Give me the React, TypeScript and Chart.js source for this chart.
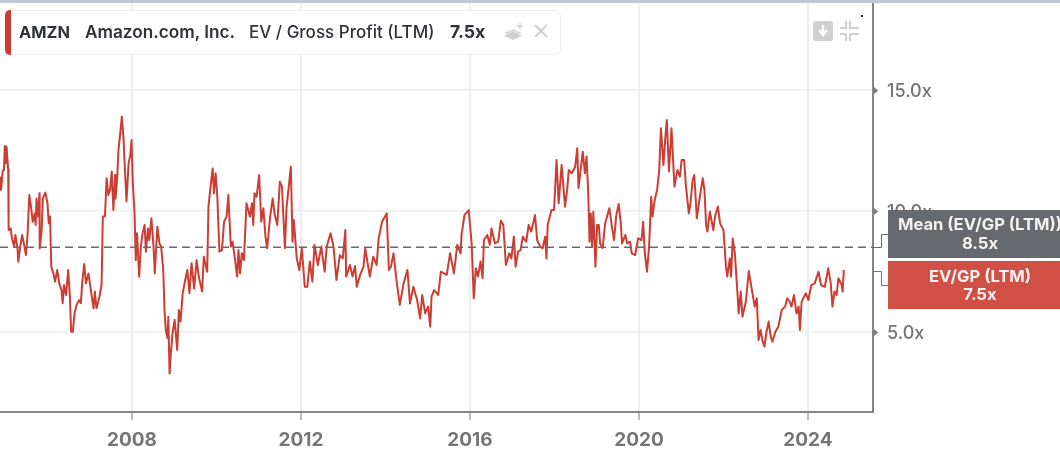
import React, { useEffect, useRef } from "react";
import { Chart, registerables } from "chart.js";

Chart.register(...registerables);

const yearTicks = [2008, 2012, 2016, 2020, 2024];
const valueTicks = [5, 10, 15];
const meanValue = 8.5;
const lastValue = 7.5;

// [decimal year, EV / Gross Profit multiple]
const evGpSeries: [number, number][] = [
[2004.88,11.42],[2004.90,10.87],[2004.94,11.65],[2004.97,11.70],[2004.99,12.69],[2005.01,11.97],[2005.03,12.66],[2005.07,11.70],[2005.08,9.21],[2005.13,9.28],[2005.16,8.87],[2005.21,8.53],[2005.24,9.01],[2005.29,8.46],[2005.31,7.91],[2005.35,8.46],[2005.40,9.01],[2005.44,8.66],[2005.49,8.18],[2005.53,9.08],[2005.57,10.66],[2005.62,10.04],[2005.65,9.56],[2005.70,9.90],[2005.72,9.42],[2005.74,10.52],[2005.78,9.77],[2005.81,10.73],[2005.815,8.46],[2005.86,9.15],[2005.89,10.52],[2005.95,10.76],
[2006.00,10.32],[2006.03,9.49],[2006.06,9.77],[2006.09,7.70],[2006.14,7.42],[2006.18,7.08],[2006.23,7.56],[2006.28,7.01],[2006.33,6.74],[2006.36,6.19],[2006.39,6.94],[2006.44,6.53],[2006.49,7.56],[2006.53,6.46],[2006.56,5.01],[2006.60,5.01],[2006.64,5.77],[2006.69,6.12],[2006.75,6.32],[2006.79,6.19],[2006.82,7.01],[2006.87,7.81],[2006.91,7.01],[2006.97,7.42],
[2007.02,6.80],[2007.09,5.98],[2007.12,6.67],[2007.16,5.98],[2007.23,6.46],[2007.28,6.94],[2007.31,9.77],[2007.36,9.77],[2007.40,11.35],[2007.44,10.66],[2007.48,10.87],[2007.52,11.63],[2007.56,10.04],[2007.60,11.49],[2007.61,10.52],[2007.65,11.35],[2007.68,12.52],[2007.73,13.35],[2007.76,13.90],[2007.80,13.00],[2007.83,11.83],[2007.87,10.39],[2007.92,11.97],[2007.96,12.31],[2007.99,12.93],
[2008.02,11.14],[2008.06,9.97],[2008.09,7.97],[2008.12,9.08],[2008.17,7.29],[2008.21,8.53],[2008.25,9.08],[2008.30,9.42],[2008.33,8.32],[2008.38,9.28],[2008.41,8.80],[2008.46,9.70],[2008.51,8.53],[2008.54,7.42],[2008.60,9.35],[2008.65,8.66],[2008.69,8.53],[2008.74,7.56],[2008.77,5.91],[2008.80,5.08],[2008.84,4.74],[2008.86,5.63],[2008.89,3.29],[2008.92,4.12],[2008.96,4.94],
[2009.01,5.50],[2009.07,4.26],[2009.11,5.91],[2009.15,5.43],[2009.20,6.60],[2009.26,7.15],[2009.31,7.56],[2009.36,6.60],[2009.41,7.84],[2009.47,6.80],[2009.53,7.97],[2009.58,7.29],[2009.66,6.67],[2009.70,8.11],[2009.78,7.49],[2009.81,10.18],[2009.86,11.01],[2009.91,11.76],[2009.94,10.73],[2009.98,11.56],
[2010.02,10.59],[2010.07,8.32],[2010.13,8.39],[2010.18,9.56],[2010.24,9.77],[2010.28,10.66],[2010.34,8.53],[2010.38,8.73],[2010.43,8.11],[2010.49,7.29],[2010.52,8.39],[2010.56,7.42],[2010.60,8.25],[2010.65,7.97],[2010.71,10.32],[2010.79,9.77],[2010.84,10.32],[2010.87,9.42],[2010.90,10.73],[2010.95,10.59],
[2011.01,11.49],[2011.06,9.56],[2011.11,10.11],[2011.16,8.94],[2011.20,8.46],[2011.27,9.77],[2011.33,10.52],[2011.38,9.84],[2011.44,9.42],[2011.50,11.21],[2011.55,11.01],[2011.62,8.46],[2011.66,10.18],[2011.72,11.14],[2011.76,11.83],[2011.80,8.73],[2011.83,9.63],[2011.90,8.04],[2011.96,7.56],
[2012.02,8.46],[2012.09,6.87],[2012.15,6.87],[2012.21,7.91],[2012.27,7.08],[2012.32,8.60],[2012.40,7.77],[2012.48,8.53],[2012.56,7.49],[2012.61,8.53],[2012.70,9.08],[2012.77,8.53],[2012.84,7.15],[2012.92,8.18],[2012.99,8.04],
[2013.05,9.21],[2013.07,7.29],[2013.16,7.77],[2013.22,7.29],[2013.28,7.73],[2013.32,6.87],[2013.40,7.36],[2013.48,7.70],[2013.52,8.46],[2013.63,7.29],[2013.71,8.11],[2013.79,7.77],[2013.84,8.87],[2013.92,9.56],
[2014.03,9.90],[2014.08,7.56],[2014.13,7.70],[2014.19,8.25],[2014.26,7.15],[2014.34,6.12],[2014.42,6.94],[2014.52,7.56],[2014.58,6.18],[2014.66,6.87],[2014.75,6.32],[2014.82,5.56],[2014.87,6.53],[2014.94,5.77],
[2015.01,6.05],[2015.06,5.22],[2015.09,6.46],[2015.15,6.73],[2015.25,6.53],[2015.31,7.49],[2015.45,7.36],[2015.53,8.25],[2015.62,7.42],[2015.70,8.60],[2015.78,8.25],[2015.80,9.01],[2015.87,9.83],[2015.97,10.04],
[2016.04,8.66],[2016.09,6.39],[2016.14,7.63],[2016.19,7.29],[2016.25,7.91],[2016.30,7.22],[2016.33,8.80],[2016.41,9.01],[2016.47,8.60],[2016.51,9.28],[2016.59,8.66],[2016.67,8.73],[2016.73,9.60],[2016.79,9.42],[2016.85,7.77],[2016.93,8.25],[2016.98,8.04],
[2017.04,8.94],[2017.08,7.70],[2017.14,8.32],[2017.20,8.39],[2017.25,8.94],[2017.33,8.73],[2017.39,9.42],[2017.45,9.15],[2017.54,9.83],[2017.59,8.80],[2017.66,8.53],[2017.72,8.46],[2017.78,8.94],[2017.81,8.04],[2017.84,9.42],[2017.93,10.04],[2017.99,10.04],
[2018.05,12.11],[2018.10,10.32],[2018.17,11.90],[2018.25,10.18],[2018.30,10.87],[2018.34,11.69],[2018.41,11.56],[2018.49,11.83],[2018.54,12.59],[2018.57,10.94],[2018.67,12.45],[2018.72,11.56],[2018.76,12.25],[2018.80,10.73],[2018.83,8.73],[2018.86,9.90],[2018.89,8.53],[2018.92,9.97],[2018.97,7.70],
[2019.01,9.42],[2019.05,9.42],[2019.08,8.66],[2019.14,8.46],[2019.20,9.49],[2019.30,10.11],[2019.36,9.35],[2019.41,8.80],[2019.46,9.77],[2019.52,10.29],[2019.57,9.49],[2019.60,8.66],[2019.68,9.01],[2019.72,8.66],[2019.79,8.73],[2019.83,8.25],[2019.91,8.18],[2019.98,8.87],
[2020.06,8.80],[2020.10,9.56],[2020.14,8.25],[2020.19,7.49],[2020.24,8.53],[2020.29,10.59],[2020.32,9.77],[2020.38,10.52],[2020.43,10.87],[2020.48,11.69],[2020.52,13.42],[2020.58,11.90],[2020.62,12.93],[2020.66,13.76],[2020.71,11.63],[2020.77,13.42],[2020.84,11.01],[2020.91,11.69],[2020.97,11.42],
[2021.01,12.11],[2021.07,12.11],[2021.11,11.07],[2021.18,9.90],[2021.22,10.32],[2021.27,11.28],[2021.31,11.49],[2021.37,9.70],[2021.43,10.45],[2021.51,11.35],[2021.55,10.87],[2021.59,9.42],[2021.62,9.15],[2021.68,9.97],[2021.76,9.21],[2021.80,9.77],[2021.87,10.18],[2021.92,9.49],
[2022.00,9.21],[2022.06,7.70],[2022.09,7.29],[2022.15,8.04],[2022.18,7.29],[2022.22,8.87],[2022.27,8.25],[2022.33,6.67],[2022.36,5.77],[2022.41,6.67],[2022.45,5.63],[2022.53,6.25],[2022.60,7.52],[2022.68,6.67],[2022.74,6.05],[2022.79,6.39],[2022.83,4.67],[2022.88,5.08],[2022.93,4.60],[2022.97,4.40],
[2023.02,5.01],[2023.07,5.43],[2023.12,4.81],[2023.16,4.60],[2023.23,5.01],[2023.30,5.22],[2023.38,5.91],[2023.46,6.05],[2023.51,6.39],[2023.57,6.25],[2023.61,6.05],[2023.67,6.53],[2023.73,5.77],[2023.78,6.05],[2023.81,5.08],[2023.85,6.25],[2023.95,6.60],
[2024.01,6.32],[2024.08,6.94],[2024.16,7.01],[2024.25,7.49],[2024.31,6.94],[2024.40,6.87],[2024.48,7.63],[2024.54,7.01],[2024.58,6.05],[2024.63,6.67],[2024.68,6.53],[2024.72,7.22],[2024.80,6.94],[2024.82,6.67],[2024.85,7.56],
];

const xMin = 2004.876;
const xMax = 2025.54;
const yMin = 1.694;
const yMax = 18.595;

const FONT = "Inter, Roboto, sans-serif";
const RED = "#cc3d33";
const GREY = "#66696d";

const overlayPlugin = {
  id: "overlay",
  afterDraw(chart: any) {
    const { ctx, scales } = chart;
    const y = scales.y;
    const right = chart.chartArea.right;
    ctx.save();
    // little arrow marks at the value ticks
    ctx.fillStyle = "#777";
    valueTicks.forEach((v) => {
      const py = y.getPixelForValue(v);
      ctx.beginPath();
      ctx.moveTo(right + 1, py - 3);
      ctx.lineTo(right + 5, py + 0.5);
      ctx.lineTo(right + 1, py + 4);
      ctx.closePath();
      ctx.fill();
    });
    // connectors from the axis to the value boxes
    ctx.lineWidth = 1;
    ctx.strokeStyle = GREY;
    const my = Math.round(y.getPixelForValue(meanValue)) + 0.5;
    ctx.beginPath();
    ctx.moveTo(right, my);
    ctx.lineTo(right + 8.5, my);
    ctx.lineTo(right + 8.5, 234.5);
    ctx.lineTo(right + 15, 234.5);
    ctx.stroke();
    ctx.strokeStyle = "#d05046";
    ctx.beginPath();
    ctx.moveTo(right, 271.5);
    ctx.lineTo(right + 8.5, 271.5);
    ctx.lineTo(right + 8.5, 285.5);
    ctx.lineTo(right + 15, 285.5);
    ctx.stroke();
    ctx.restore();
  },
};

const pos = (o: React.CSSProperties): React.CSSProperties => ({ position: "absolute", ...o });

export default function App() {
  const ref = useRef<HTMLCanvasElement>(null);
  useEffect(() => {
    document.body.style.margin = "0";
    const chart = new Chart(ref.current!, {
      type: "line",
      data: {
        datasets: [
          {
            label: "Mean (EV/GP (LTM))",
            data: [
              { x: xMin, y: meanValue },
              { x: xMax, y: meanValue },
            ],
            borderColor: GREY,
            borderWidth: 1.6,
            borderDash: [8, 5],
            pointRadius: 0,
            order: 0,
          },
          {
            label: "EV/GP (LTM)",
            data: evGpSeries.map(([x, y]) => ({ x, y })),
            borderColor: RED,
            borderWidth: 2,
            borderJoinStyle: "round",
            pointRadius: 0,
            tension: 0,
            order: 1,
          },
        ],
      },
      options: {
        animation: false,
        responsive: false,
        devicePixelRatio: 1,
        layout: { padding: { top: 3, left: 0, right: 0, bottom: 0 } },
        plugins: { legend: { display: false }, tooltip: { enabled: false } },
        scales: {
          x: {
            type: "linear",
            min: xMin,
            max: xMax,
            afterBuildTicks: (s: any) => {
              s.ticks = yearTicks.map((value) => ({ value }));
            },
            afterFit: (s: any) => {
              s.height = 42;
              s.paddingLeft = 0;
              s.paddingRight = 0;
            },
            grid: { color: "#eeeeee", lineWidth: 2, tickColor: "#777", tickLength: 8, tickWidth: 1 },
            border: { color: "#858585", width: 2 },
            ticks: {
              autoSkip: false,
              maxRotation: 0,
              padding: 9,
              color: "#757575",
              font: { family: FONT, size: 19, weight: "700" },
              callback: (v: any) => String(v),
            },
          },
          y: {
            type: "linear",
            position: "right",
            min: yMin,
            max: yMax,
            afterBuildTicks: (s: any) => {
              s.ticks = valueTicks.map((value) => ({ value }));
            },
            afterFit: (s: any) => {
              s.width = 187;
              s.paddingTop = 0;
              s.paddingBottom = 0;
            },
            grid: { color: "#eeeeee", lineWidth: 1.5, drawTicks: false },
            border: { color: "#858585", width: 2 },
            ticks: {
              padding: 14,
              labelOffset: 1.5,
              color: "#757575",
              font: { family: FONT, size: 18, weight: "500" },
              callback: (v: any) => `${Number(v).toFixed(1)}x`,
            },
          },
        },
      },
      plugins: [overlayPlugin],
    } as any);
    return () => chart.destroy();
  }, []);

  const headerText: React.CSSProperties = {
    position: "absolute",
    top: 20.5,
    lineHeight: "22px",
    fontSize: 17,
    color: "#2f3338",
    whiteSpace: "nowrap",
    fontFamily: FONT,
  };
  const boxText: React.CSSProperties = {
    position: "absolute",
    left: 888,
    width: 184,
    textAlign: "center",
    color: "#f4f1f0",
    fontSize: 16.6,
    fontWeight: 700,
    lineHeight: "21px",
    fontFamily: FONT,
    whiteSpace: "nowrap",
  };

  return (
    <div style={{ position: "relative", width: 1060, height: 454, overflow: "hidden", background: "#fff" }}>
      <canvas ref={ref} width={1060} height={454} style={{ display: "block", width: 1060, height: 454 }} />
      <div style={pos({ left: 0, top: 0, width: 1060, height: 3, background: "#bcc8d8" })} />

      <div style={pos({ left: 5, top: 10, width: 556, height: 45, background: "#fff", border: "1px solid #efefef", borderRadius: 6, boxSizing: "border-box" })} />
      <div style={pos({ left: 5, top: 10, width: 6, height: 45, background: RED, borderRadius: "5px 0 0 5px" })} />
      <div style={{ ...headerText, left: 19, fontWeight: 700, fontSize: 16.4 }}>AMZN</div>
      <div style={{ ...headerText, left: 85, fontWeight: 600, fontSize: 17.2 }}>Amazon.com, Inc.</div>
      <div style={{ ...headerText, left: 249, fontWeight: 500 }}>EV / Gross Profit (LTM)</div>
      <div style={{ ...headerText, left: 450, fontWeight: 700, fontSize: 17.6 }}>7.5x</div>

      <svg style={pos({ left: 502, top: 20 })} width={22} height={22} viewBox="0 0 22 22">
        <path d="M2 13 L11 9 L20 13 L11 17 Z" fill="#dcdcdc" />
        <path d="M2 16 L11 12 L20 16 L11 20 Z" fill="#d2d2d2" />
        <path d="M15 6 H21 M18 3 V9" stroke="#d5d5d5" strokeWidth={1.6} />
      </svg>
      <svg style={pos({ left: 532, top: 22 })} width={18} height={18} viewBox="0 0 18 18">
        <path d="M3 3 L15 15 M15 3 L3 15" stroke="#d0d0d0" strokeWidth={2} />
      </svg>

      <svg style={pos({ left: 812, top: 20 })} width={50} height={22} viewBox="0 0 50 22">
        <rect x={1} y={1} width={20} height={20} rx={3} fill="#d0d0d0" />
        <path d="M11 5 V13 M7 10 L11 15 L15 10" stroke="#fff" strokeWidth={2.4} fill="none" />
        <path d="M34 1 V8 H28 M38 1 V8 H47 M34 21 V14 H28 M38 21 V14 H47" stroke="#cfcfcf" strokeWidth={2} fill="none" />
      </svg>
      <div style={pos({ left: 861, top: 15, width: 2, height: 2, background: "#222" })} />

      <div style={pos({ left: 888, top: 210, width: 172, height: 48, background: GREY })} />
      <div style={{ ...boxText, top: 214 }}>Mean (EV/GP (LTM))</div>
      <div style={{ ...boxText, top: 233 }}>{meanValue.toFixed(1)}x</div>
      <div style={pos({ left: 888, top: 261, width: 172, height: 48, background: "#d05046" })} />
      <div style={{ ...boxText, top: 266 }}>EV/GP (LTM)</div>
      <div style={{ ...boxText, top: 284 }}>{lastValue.toFixed(1)}x</div>
    </div>
  );
}
